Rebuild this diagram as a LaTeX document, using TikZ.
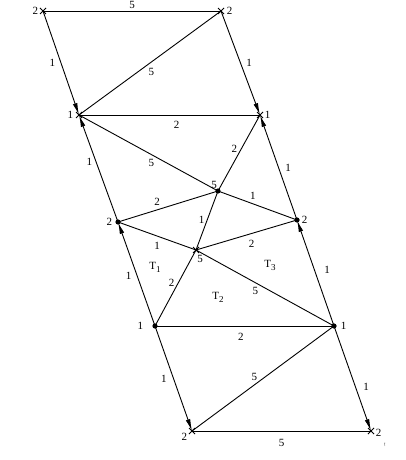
\documentclass[tikz,border=0pt]{standalone}
\usepackage{fontspec}
\setmainfont{Liberation Serif}
\usetikzlibrary{arrows.meta}
\newcommand{\tri}[1]{T\raisebox{-3pt}{\fontsize{9}{10}\selectfont #1}}
\begin{document}
\begin{tikzpicture}[x=1pt,y=-1pt,line width=0.9pt,
    every node/.style={font=\fontsize{11}{13}\selectfont, inner sep=1.5pt},
    every label/.style={font=\fontsize{11}{13}\selectfont, inner sep=1.5pt},
    arr/.style={-{Latex[length=12pt,width=4.6pt]}}]
\useasboundingbox (0,0) rectangle (406,460);
% vertices
\coordinate[label={[label distance=3pt]left:2}] (A) at (43,11);
\coordinate[label={[label distance=4pt]right:2}] (B) at (221,11);
\coordinate[label={[label distance=4pt]left:1}] (C) at (79,115);
\coordinate[label={[label distance=3pt]right:1}] (D) at (260,115);
\coordinate[label={[xshift=-4pt]above:5}] (E) at (218,191);
\coordinate[label={[label distance=4pt]left:2}] (F) at (118,222);
\coordinate[label={[label distance=3pt]right:2}] (G) at (297,220);
\coordinate[label={[label distance=3pt,xshift=4pt]below:5}] (H) at (196,250);
\coordinate[label={[label distance=10pt]left:1}] (I) at (155,326);
\coordinate[label={[label distance=5pt]right:1}] (J) at (334,326);
\coordinate[label={[xshift=-3pt]below left:2}] (K) at (192,431);
\coordinate[label={[label distance=3pt,yshift=-2pt]right:2}] (L) at (371,431);
% plain edges
\draw (A) -- node[above] {5} (B);
\draw (B) -- node[pos=0.49,below=4pt] {5} (C);
\draw (C) -- node[pos=0.54,below=4pt] {2} (D);
\draw (C) -- node[pos=0.52,below=3pt] {5} (E);
\draw (E) -- node[pos=0.55,left=2pt] {2} (D);
\draw (F) -- node[pos=0.39,above=2pt] {2} (E);
\draw (E) -- node[pos=0.44,above=2pt] {1} (G);
\draw (E) -- node[pos=0.49,left=1pt] {1} (H);
\draw (F) -- node[pos=0.5,below=4pt] {1} (H);
\draw (H) -- node[pos=0.55,below=5pt] {2} (G);
\draw (H) -- node[pos=0.43,left=2pt] {2} (I);
\draw (H) -- node[pos=0.43,below=3pt] {5} (J);
\draw (I) -- node[pos=0.48,below=5pt] {2} (J);
\draw (J) -- node[pos=0.56,above=2pt] {5} (K);
\draw (K) -- node[below=6pt] {5} (L);
% arrows
\draw[arr] (A) -- node[left=4pt] {1} (C);
\draw[arr] (B) -- node[right=4pt] {1} (D);
\draw[arr] (F) -- node[pos=0.56,left=2pt] {1} (C);
\draw[arr] (G) -- node[pos=0.5,right=5pt] {1} (D);
\draw[arr] (I) -- node[pos=0.48,left=4pt] {1} (F);
\draw[arr] (J) -- node[pos=0.53,right=8pt] {1} (G);
\draw[arr] (I) -- node[left=5pt] {1} (K);
\draw[arr] (J) -- node[pos=0.58,right=6pt] {1} (L);
% markers
\foreach \p in {A,B,C,D,H,K,L}
  \draw (\p) +(-3,-3) -- +(3,3) +(-3,3) -- +(3,-3);
\foreach \p in {E,F,G,I,J}
  \fill (\p) circle (2.6);
% triangle names
\node (T1) at (155,267) {\tri{1}};
\node (T2) at (218,297) {\tri{2}};
\node (T3) at (270,265) {\tri{3}};
\node[font=\fontsize{5}{6}\selectfont] (bang) at (385,445) {!};
\end{tikzpicture}
\end{document}
